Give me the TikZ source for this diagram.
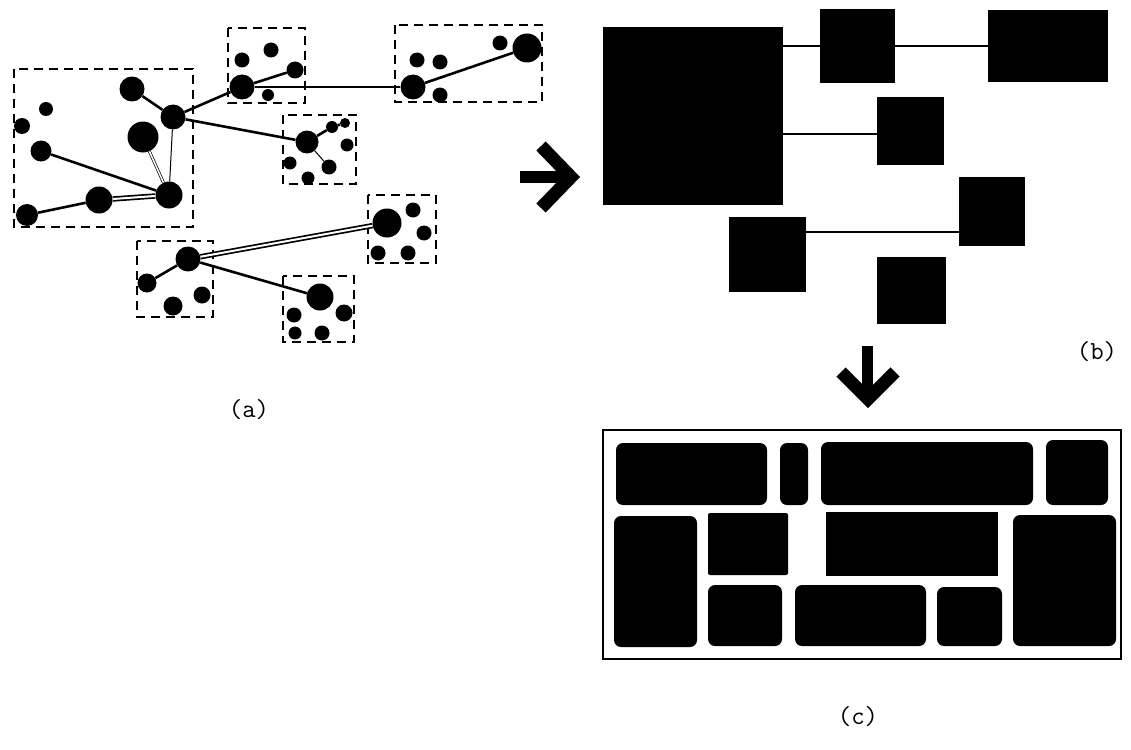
\documentclass[tikz,border=0pt]{standalone}
\usetikzlibrary{calc}
\begin{document}
\begin{tikzpicture}[x=1pt,y=-1pt,
  dot/.style={circle,fill=black,inner sep=0pt,minimum size=#1},
  dbox/.style={draw,line width=2.8pt,dash pattern=on 9pt off 6pt},
  link/.style={line width=2.6pt},
  thinlink/.style={line width=1pt},
  dlink/.style={double,double distance=2pt,line width=1.7pt},
  thindouble/.style={double,double distance=1.5pt,line width=0.7pt},
  blk/.style={fill=black,inner sep=0pt},
  rblk/.style={fill=black,rounded corners=7pt},
  chev/.style={line width=13pt,line join=miter},
  lbl/.style={font=\ttfamily\fontsize{26}{30}\selectfont}]
\useasboundingbox (0,0) rectangle (1131,749);

% ---------- panel (a): dashed regions ----------
\draw[dbox] (14,69) rectangle (193,227);
\draw[dbox] (228,28) rectangle (305,103);
\draw[dbox] (395,25) rectangle (542,102);
\draw[dbox] (283,115) rectangle (356,184);
\draw[dbox] (137,241) rectangle (213,317);
\draw[dbox] (368,195) rectangle (436,263);
\draw[dbox] (283,276) rectangle (354,342);

% dots
\node[dot=25pt] (a1) at (132,89) {};
\node[dot=25pt] (a2) at (173,117) {};
\node[dot=31pt] (a3) at (143,137) {};
\node[dot=14pt] (a4) at (46,109) {};
\node[dot=16pt] (a5) at (22,126) {};
\node[dot=21pt] (a6) at (41,151) {};
\node[dot=27pt] (a7) at (169,195) {};
\node[dot=27pt] (a8) at (99,200) {};
\node[dot=22pt] (a9) at (27,215) {};

\node[dot=25pt] (b1) at (242,87) {};
\node[dot=15pt] (b2) at (242,60) {};
\node[dot=15pt] (b3) at (271,50) {};
\node[dot=17pt] (b4) at (295,70) {};
\node[dot=12pt] (b5) at (268,95) {};

\node[dot=25pt] (c1) at (413,87) {};
\node[dot=15pt] (c2) at (417,60) {};
\node[dot=15pt] (c3) at (440,62) {};
\node[dot=15pt] (c4) at (440,95) {};
\node[dot=15pt] (c5) at (500,43) {};
\node[dot=29pt] (c6) at (527,48) {};

\node[dot=23pt] (d1) at (307,142) {};
\node[dot=12pt] (d2) at (332,127) {};
\node[dot=10pt] (d3) at (345,123) {};
\node[dot=13pt] (d4) at (347,145) {};
\node[dot=13pt] (d5) at (290,163) {};
\node[dot=15pt] (d6) at (329,167) {};
\node[dot=13pt] (d7) at (308,178) {};

\node[dot=25pt] (e1) at (188,259) {};
\node[dot=19pt] (e2) at (147,283) {};
\node[dot=19pt] (e3) at (173,306) {};
\node[dot=17pt] (e4) at (202,295) {};

\node[dot=29pt] (f1) at (387,223) {};
\node[dot=15pt] (f2) at (413,210) {};
\node[dot=15pt] (f3) at (424,233) {};
\node[dot=15pt] (f4) at (378,253) {};
\node[dot=15pt] (f5) at (408,253) {};

\node[dot=27pt] (g1) at (320,297) {};
\node[dot=15pt] (g2) at (294,315) {};
\node[dot=17pt] (g3) at (344,313) {};
\node[dot=13pt] (g4) at (295,333) {};
\node[dot=15pt] (g5) at (322,333) {};

% links
\draw[link] (a6) -- (a7);
\draw[link] (a9) -- (a8);
\draw[dlink] (a8) -- (a7);
\draw[link] (a1) -- (a2);
\draw[link] (a2) -- (b1);
\draw[link] (a2) -- (d1);
\draw[thindouble] (a3) -- (a7);
\draw[thinlink] (a2) -- (a7);
\draw[link] (b1) -- (b4);
\draw[link] (b1) -- (c1);
\draw[link] (c1) -- (c6);
\draw[link] (d1) -- (d2);
\draw[link] (d2) -- (d3);
\draw[thinlink] (d1) -- (d6);
\draw[link] (e1) -- (e2);
\draw[dlink] (e1) -- (f1);
\draw[link] (e1) -- (g1);

\node[lbl] (la) at (249,410) {(a)};

% ---------- arrow right ----------
\draw[line width=12pt] (520,177) -- (566,177);
\draw[chev] (541,146) -- (571,177) -- (541,208);

% ---------- panel (b) ----------
\node[blk,minimum width=180pt,minimum height=178pt] (big) at (693,116) {};
\node[blk,minimum width=75pt,minimum height=74pt] (s1) at (857.5,46) {};
\node[blk,minimum width=120pt,minimum height=72pt] (s2) at (1048,46) {};
\node[blk,minimum width=67pt,minimum height=67pt] (s3) at (910.5,131) {};
\node[blk,minimum width=66pt,minimum height=69pt] (s4) at (992,211.5) {};
\node[blk,minimum width=77pt,minimum height=75pt] (s5) at (767.5,254.5) {};
\node[blk,minimum width=69pt,minimum height=67pt] (s6) at (911.5,290.5) {};
\draw[link] (s1.west) -- (s1.west -| big.east);
\draw[link] (s1.east) -- (s2.west);
\draw[link] ($(s3.west)+(0,3)$) coordinate (p3) -- (p3 -| big.east);
\coordinate (p4) at ($(s4.west)!0.59!(s4.south west)$);
\draw[link] (p4) -- (p4 -| s5.east);
\node[lbl] (lb) at (1097,352) {(b)};

% ---------- arrow down ----------
\draw[line width=11pt] (867,346) -- (867,390);
\draw[chev] (841,372) -- (868,399) -- (895,372);

% ---------- panel (c) ----------
\draw[line width=2.8pt] (603,430) rectangle (1121,659);
\fill[rblk] (616,443) rectangle (767,505);
\fill[rblk] (780,443) rectangle (808,505);
\fill[rblk] (821,442) rectangle (1033,505);
\fill[rblk] (1046,440) rectangle (1108,505);
\fill[rblk] (614,516) rectangle (697,647);
\fill[black,rounded corners=2pt] (708,513) rectangle (788,575);
\fill[black] (826,512) rectangle (998,576);
\fill[rblk] (1013,515) rectangle (1116,646);
\fill[rblk] (708,585) rectangle (782,646);
\fill[rblk] (795,585) rectangle (926,646);
\fill[rblk] (937,587) rectangle (1002,646);
\node[lbl] (lc) at (858,717) {(c)};
\end{tikzpicture}
\end{document}
